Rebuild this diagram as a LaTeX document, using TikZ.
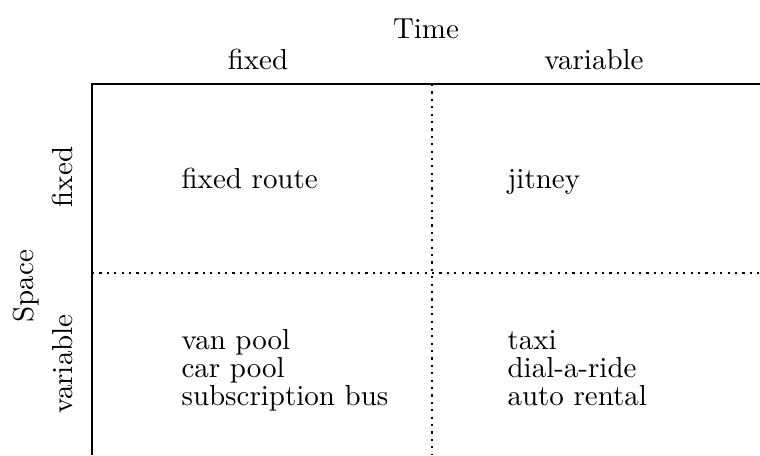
\documentclass[tikz,border=0pt]{standalone}
\begin{document}
\begin{tikzpicture}[x=0.345pt, y=-0.345pt,
    frame/.style={line width=0.65pt},
    grid/.style={line width=0.75pt, dash pattern=on 0.75pt off 1.8pt},
    lbl/.style={inner sep=0pt, anchor=base},
    cell/.style={inner sep=0pt, anchor=base west},
    side/.style={inner sep=0pt, anchor=base, rotate=90}]
  \useasboundingbox (0,0) rectangle (760,455);

  % corner points of the table
  \coordinate (tl) at (92,84);
  \coordinate (tr) at (760,84);
  \coordinate (bl) at (92,455);
  \coordinate (mt) at (432,84);
  \coordinate (mb) at (432,455);
  \coordinate (ml) at (92,273);
  \coordinate (mr) at (760,273);

  % frame and dividers
  \draw[frame] (bl) -- (tl) -- (tr);
  \draw[grid] (mt) -- (mb);
  \draw[grid] (ml) -- (mr);

  % column headings
  \node[lbl] (time) at (426,38) {Time};
  \node[lbl] (tfixed) at (258,69) {fixed};
  \node[lbl] (tvar) at (594,69) {variable};

  % row headings
  \node[side] (space) at (33,286) {Space};
  \node[side] (sfixed) at (72,177) {fixed};
  \node[side] (svar) at (72,364) {variable};

  % cells
  \node[cell] (fr) at (181,188) {fixed route};
  \node[cell] (jt) at (507,188) {jitney};
  \node[cell] (vp) at (181,349) {van pool};
  \node[cell] (cp) at (181,377) {car pool};
  \node[cell] (sb) at (181,405) {subscription bus};
  \node[cell] (tx) at (507,349) {taxi};
  \node[cell] (dr) at (507,377) {dial-a-ride};
  \node[cell] (ar) at (507,405) {auto rental};
\end{tikzpicture}
\end{document}
